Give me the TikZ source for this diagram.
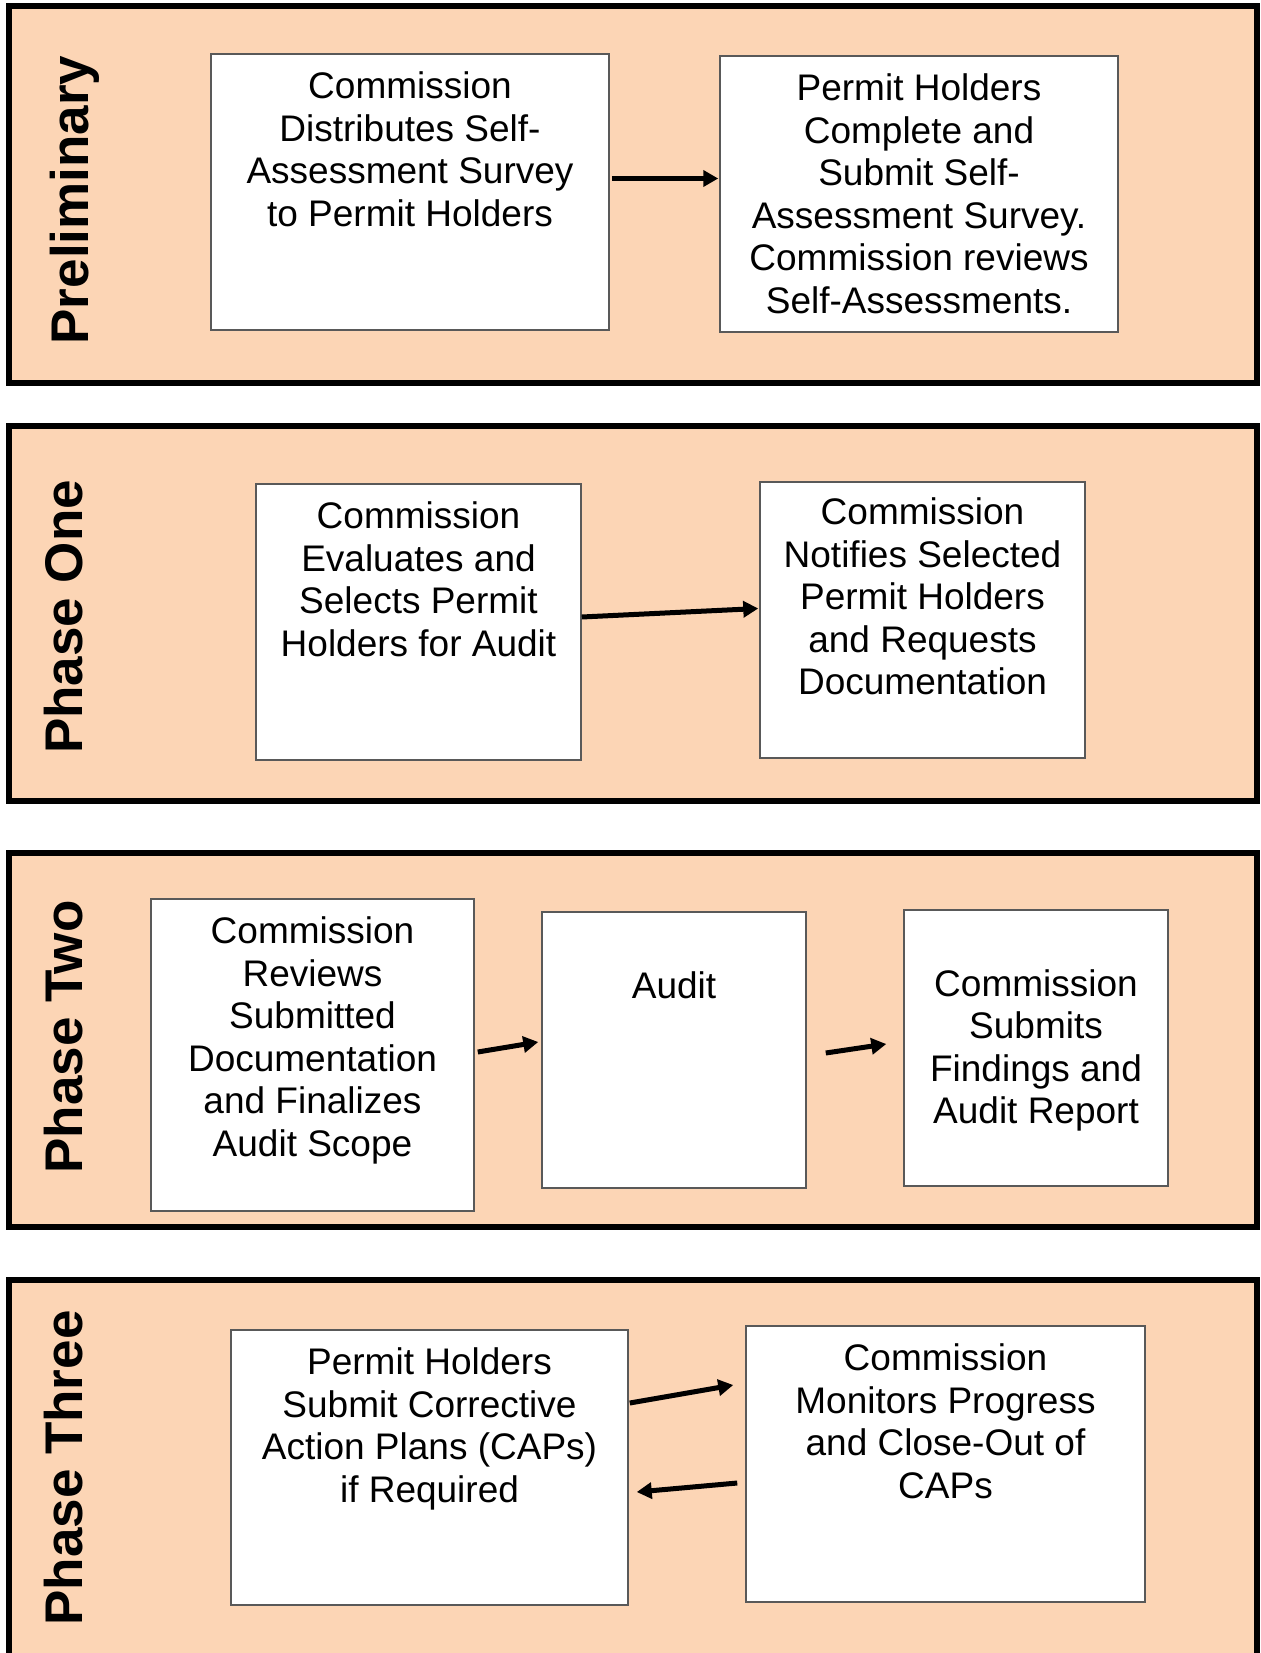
\documentclass[tikz,border=0pt]{standalone}
\usepackage{fontspec}
\setmainfont{Liberation Sans}
\usepackage{xcolor}
\usepackage{tikz}
\usetikzlibrary{arrows.meta,positioning,calc}

\definecolor{bandtan}{RGB}{252,213,181}
\definecolor{boxgray}{RGB}{89,89,89}

\begin{document}
\begin{tikzpicture}[x=1pt, y=-1pt,
    band/.style={draw=black, line width=6pt, fill=bandtan},
    stagebox/.style={draw=boxgray, line width=1.5pt, fill=white, inner sep=0pt},
    stagetext/.style={anchor=north, inner sep=0pt, align=center,
        font=\fontsize{37}{42.5}\selectfont},
    bandtitle/.style={rotate=90, anchor=base, inner sep=0pt,
        font=\fontsize{53}{60}\selectfont\bfseries},
    flow/.style={line width=5pt, -{Triangle[length=15pt, width=16pt]}}]

    \clip (0,0) rectangle (1260,1653);
    \fill[white] (0,0) rectangle (1260,1653);

    % Four phase bands with their titles
    \foreach \top/\bot/\name/\tx/\ty in {6.5/382.5/Preliminary/88/200,
        425.5/800.5/Phase One/82/617, 852.5/1227/Phase Two/82/1037,
        1280/1700/Phase Three/82/1468} {
        \draw[band] (9,\top) rectangle (1257,\bot);
        \node[bandtitle] at (\tx,\ty) {\name};
    }

    % Preliminary
    \node[stagebox, minimum width=398pt, minimum height=276pt] (dist) at (410,192) {};
    \node[stagebox, minimum width=398pt, minimum height=276pt] (submit) at (919,194) {};
    \node[stagetext] (distT) at ([yshift=-18.5pt]dist.north)
        {Commission\\Distributes Self-\\Assessment Survey\\to Permit Holders};
    \node[stagetext] (submitT) at ([yshift=-18.5pt]submit.north)
        {Permit Holders\\Complete and\\Submit Self-\\Assessment Survey.\\Commission reviews\\Self-Assessments.};
    \draw[flow] ([xshift=2pt, yshift=13.5pt]dist.east) -- ([xshift=-1pt, yshift=15.5pt]submit.west);

    % Phase One
    \node[stagebox, minimum width=325pt, minimum height=276pt] (select) at (418.5,622) {};
    \node[stagebox, minimum width=325pt, minimum height=276pt] (notify) at (922.5,620) {};
    \node[stagetext] (selectT) at ([yshift=-18.5pt]select.north)
        {Commission\\Evaluates and\\Selects Permit\\Holders for Audit};
    \node[stagetext] (notifyT) at ([yshift=-16.5pt]notify.north)
        {Commission\\Notifies Selected\\Permit Holders\\and Requests\\Documentation};
    \draw[flow] ([yshift=5pt]select.east) -- ([xshift=-1pt, yshift=11.5pt]notify.west);

    % Phase Two
    \node[stagebox, minimum width=323pt, minimum height=312pt] (scope) at (312.5,1055) {};
    \node[stagebox, minimum width=264pt, minimum height=276pt] (audit) at (674,1050) {};
    \node[stagebox, minimum width=264pt, minimum height=276pt] (report) at (1036,1048) {};
    \node[stagetext] (scopeT) at ([yshift=-18.5pt]scope.north)
        {Commission\\Reviews\\Submitted\\Documentation\\and Finalizes\\Audit Scope};
    \node[stagetext] (auditT) at ([yshift=-60pt]audit.north) {Audit};
    \node[stagetext] (reportT) at ([yshift=-60pt]report.north)
        {Commission\\Submits\\Findings and\\Audit Report};
    \draw[flow] ([xshift=3pt, yshift=3pt]scope.east) -- ([xshift=-3pt, yshift=8pt]audit.west);
    \draw[flow] ([xshift=19pt, yshift=-3pt]audit.east) -- ([xshift=-17pt, yshift=4pt]report.west);

    % Phase Three
    \node[stagebox, minimum width=397pt, minimum height=275pt] (caps) at (429.5,1467.5) {};
    \node[stagebox, minimum width=399pt, minimum height=276pt] (monitor) at (945.5,1464) {};
    \node[stagetext] (capsT) at ([yshift=-18.5pt]caps.north)
        {Permit Holders\\Submit Corrective\\Action Plans (CAPs)\\if Required};
    \node[stagetext] (monitorT) at ([yshift=-18.5pt]monitor.north)
        {Commission\\Monitors Progress\\and Close-Out of\\CAPs};
    \draw[flow] ([xshift=1pt, yshift=64.5pt]caps.east) -- ([xshift=-12pt, yshift=79pt]monitor.west);
    \draw[flow] ([xshift=-8pt, yshift=-19pt]monitor.west) -- ([xshift=8pt, yshift=-24.5pt]caps.east);
\end{tikzpicture}
\end{document}
